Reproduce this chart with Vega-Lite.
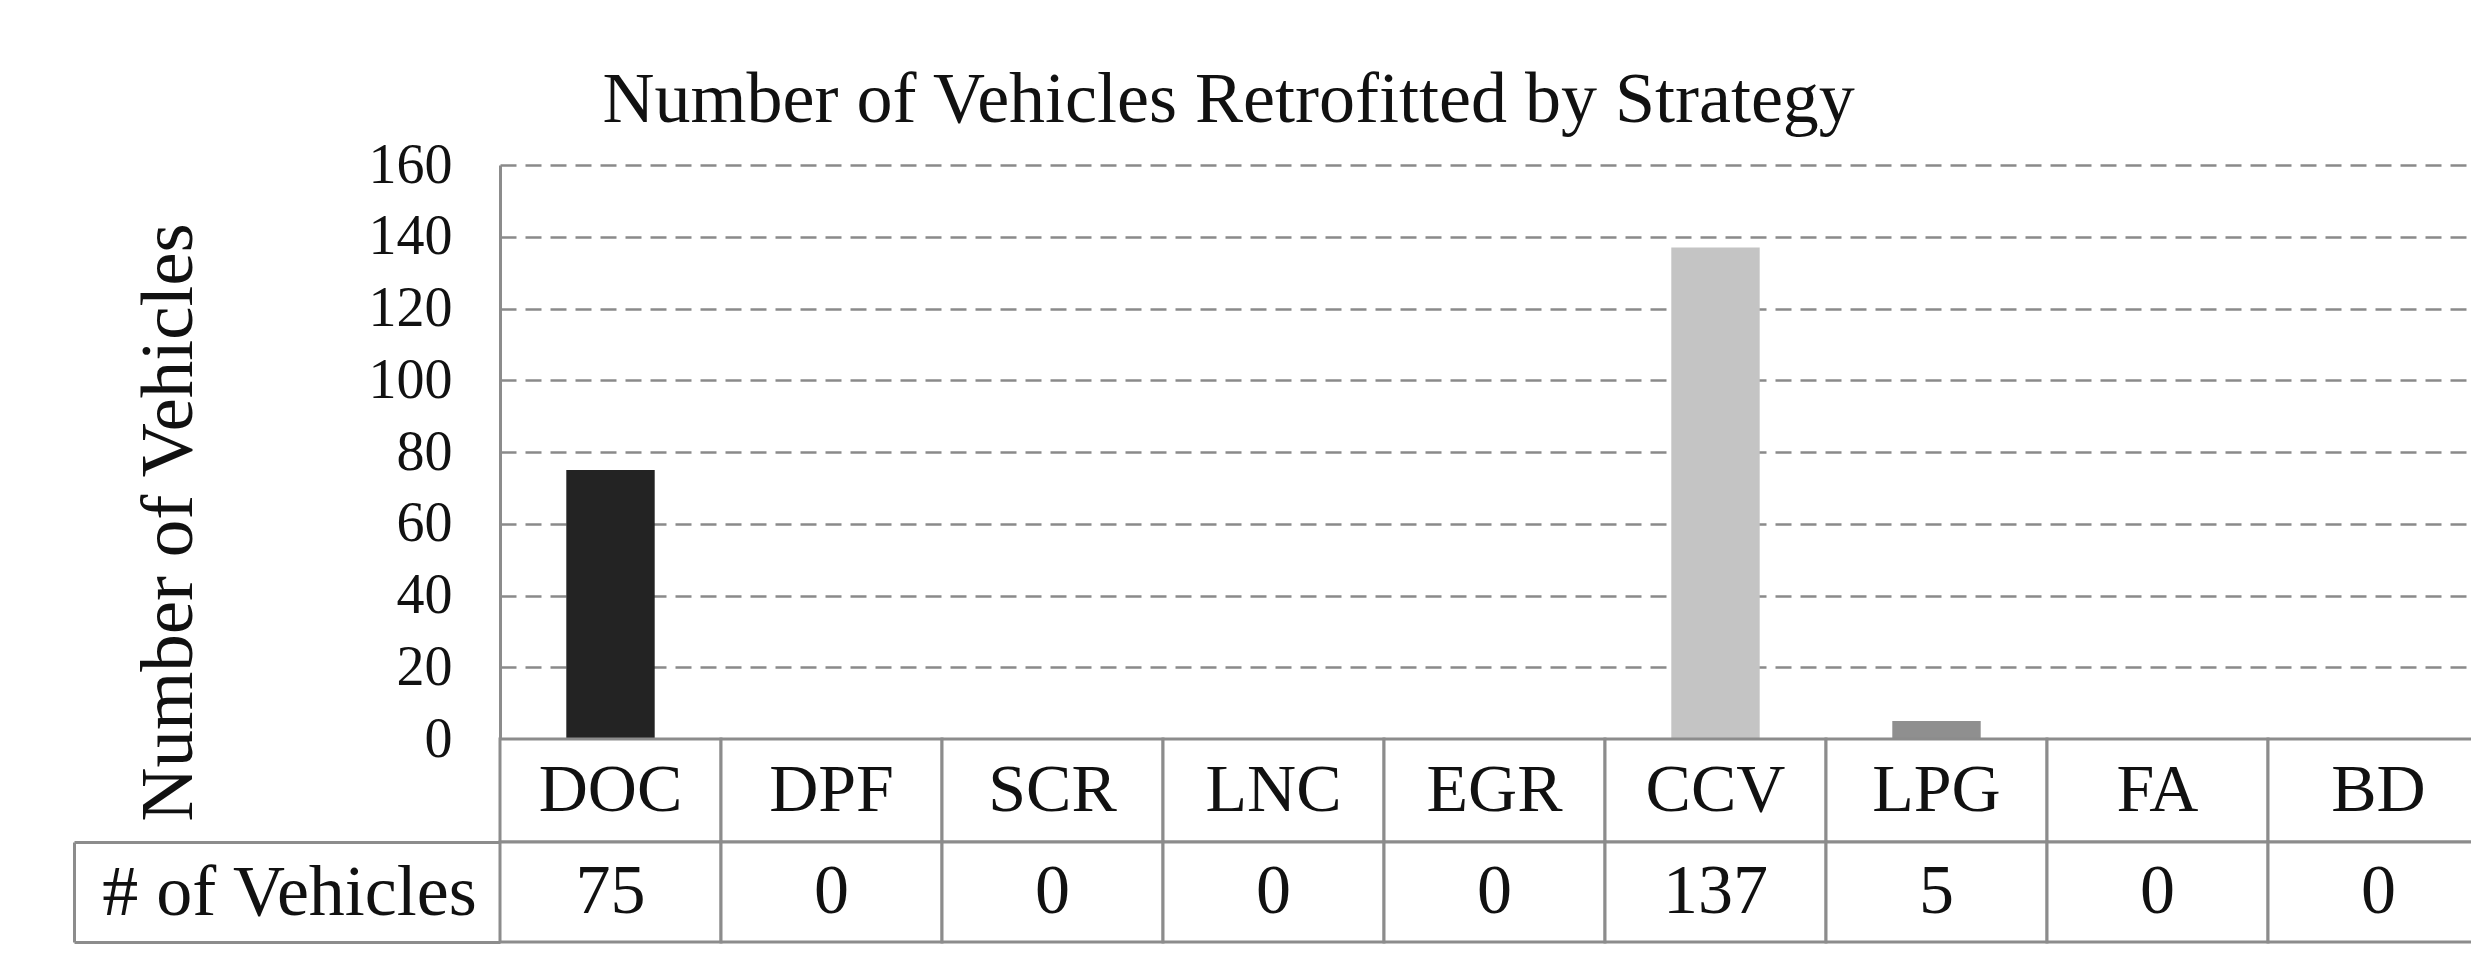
{
  "$schema": "https://vega.github.io/schema/vega-lite/v6.json",
  "padding": {"left": 72, "top": 64, "right": 0, "bottom": 0},
  "background": "white",
  "title": {
    "text": "Number of Vehicles Retrofitted by Strategy",
    "font": "Liberation Serif",
    "fontSize": 72,
    "fontWeight": "normal",
    "color": "#111111",
    "anchor": "start",
    "frame": "bounds",
    "dx": 530,
    "offset": 0
  },
  "data": {
    "values": [
      {"Strategy": "DOC", "Vehicles": 75},
      {"Strategy": "DPF", "Vehicles": 0},
      {"Strategy": "SCR", "Vehicles": 0},
      {"Strategy": "LNC", "Vehicles": 0},
      {"Strategy": "EGR", "Vehicles": 0},
      {"Strategy": "CCV", "Vehicles": 137},
      {"Strategy": "LPG", "Vehicles": 5},
      {"Strategy": "FA", "Vehicles": 0},
      {"Strategy": "BD", "Vehicles": 0}
    ]
  },
  "spacing": 0,
  "bounds": "flush",
  "resolve": {"scale": {"x": "independent", "y": "independent"}},
  "config": {"view": {"stroke": null}, "font": "Liberation Serif"},
  "vconcat": [
    {
      "width": 1989,
      "height": 574,
      "mark": {"type": "bar"},
      "encoding": {
        "x": {
          "field": "Strategy",
          "type": "nominal",
          "sort": null,
          "scale": {"paddingInner": 0.6, "paddingOuter": 0.3},
          "axis": null
        },
        "y": {
          "field": "Vehicles",
          "type": "quantitative",
          "scale": {"domain": [0, 160], "nice": false},
          "axis": {
            "values": [0, 20, 40, 60, 80, 100, 120, 140, 160],
            "grid": true,
            "gridColor": "#8a8a8a",
            "gridWidth": 2.5,
            "gridDash": [16, 9],
            "domainColor": "#8c8c8c",
            "domainWidth": 3,
            "ticks": false,
            "labelFont": "Liberation Serif",
            "labelFontSize": 56,
            "labelColor": "#111111",
            "labelPadding": 48,
            "title": "Number of Vehicles",
            "titleFont": "Liberation Serif",
            "titleFontSize": 75,
            "titleFontWeight": "normal",
            "titleColor": "#111111",
            "titleX": -293,
            "titleY": 357
          }
        },
        "color": {
          "field": "Strategy",
          "type": "nominal",
          "scale": {
            "domain": ["DOC", "DPF", "SCR", "LNC", "EGR", "CCV", "LPG", "FA", "BD"],
            "range": ["#232323", "#777777", "#777777", "#777777", "#777777", "#c4c4c4", "#8f8f8f", "#777777", "#777777"]
          },
          "legend": null
        }
      }
    },
    {
      "width": 1989,
      "height": 103,
      "encoding": {
        "x": {
          "field": "Strategy",
          "type": "nominal",
          "sort": null,
          "scale": {"paddingInner": 0, "paddingOuter": 0},
          "axis": null
        }
      },
      "layer": [
        {"mark": {"type": "rect", "fill": "white", "stroke": "#8c8c8c", "strokeWidth": 3}},
        {
          "mark": {"type": "text", "fontSize": 68, "font": "Liberation Serif", "color": "#111111", "baseline": "middle"},
          "encoding": {"text": {"field": "Strategy"}}
        }
      ]
    },
    {
      "width": 1989,
      "height": 100,
      "encoding": {
        "x": {
          "field": "Strategy",
          "type": "nominal",
          "sort": null,
          "scale": {"paddingInner": 0, "paddingOuter": 0},
          "axis": null
        },
        "y": {
          "datum": "# of Vehicles",
          "type": "nominal",
          "scale": {"paddingInner": 0, "paddingOuter": 0},
          "axis": {
            "offset": 426,
            "tickBand": "extent",
            "tickSize": -426,
            "tickColor": "#8c8c8c",
            "tickWidth": 3,
            "domainColor": "#8c8c8c",
            "domainWidth": 3,
            "labelFont": "Liberation Serif",
            "labelFontSize": 72,
            "labelLimit": 0,
            "labelColor": "#111111",
            "labelAlign": "center",
            "labelPadding": 211,
            "title": null
          }
        }
      },
      "layer": [
        {"mark": {"type": "rect", "fill": "white", "stroke": "#8c8c8c", "strokeWidth": 3}},
        {
          "mark": {"type": "text", "fontSize": 70, "font": "Liberation Serif", "color": "#111111", "baseline": "middle"},
          "encoding": {"text": {"field": "Vehicles", "type": "quantitative"}}
        }
      ]
    }
  ]
}
